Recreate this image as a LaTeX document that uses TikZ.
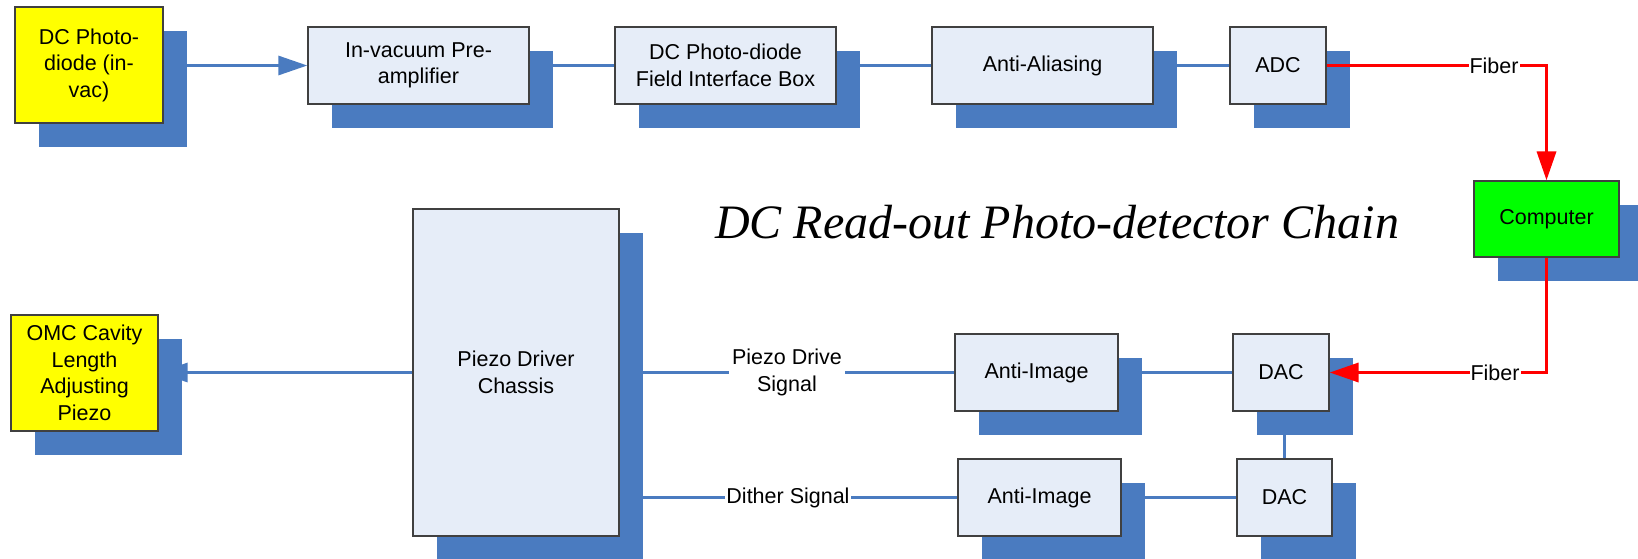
\documentclass[tikz,border=0pt]{standalone}
\usepackage{fontspec}
\setmainfont{Liberation Sans}
\newfontfamily\titlefont{Liberation Serif}
\usetikzlibrary{arrows.meta,shadows,calc}
\definecolor{shblue}{RGB}{74,123,192}
\definecolor{boxfill}{RGB}{230,237,248}
\definecolor{boxdraw}{RGB}{64,64,64}
\definecolor{fibred}{RGB}{255,0,0}
\definecolor{yel}{RGB}{255,255,0}
\definecolor{grn}{RGB}{0,255,0}
\begin{document}
\begin{tikzpicture}[x=1pt,y=-1pt,
  blk/.style={draw=boxdraw, line width=1.3pt, fill=boxfill, align=center, inner sep=0pt,
    font=\fontsize{21.5}{26.5}\selectfont,
    drop shadow={shadow xshift=24pt, shadow yshift=-24pt, opacity=1, fill=shblue, draw=none}},
  wire/.style={draw=shblue, line width=3pt},
  fib/.style={draw=fibred, line width=3.5pt},
  lab/.style={fill=white, inner sep=1pt, align=center, font=\fontsize{21.5}{26.5}\selectfont},
  bluearrow/.style={wire, -{Triangle[length=29pt,width=19pt]}},
  redarrow/.style={fib, -{Triangle[length=29pt,width=19pt]}}
]
\useasboundingbox (0,0) rectangle (1638,558);

% top chain
\node[blk, fill=yel, minimum width=148pt, minimum height=116pt] (dcpd) at (89,65) {DC Photo-\\diode (in-\\vac)};
\node[blk, minimum width=221pt, minimum height=77pt] (pre) at (418.5,65.5) {In-vacuum Pre-\\amplifier};
\node[blk, minimum width=221pt, minimum height=77pt] (fib) at (725.5,65.5) {DC Photo-diode\\Field Interface Box};
\node[blk, minimum width=221pt, minimum height=77pt] (aa) at (1042.5,65.5) {Anti-Aliasing};
\node[blk, minimum width=96pt, minimum height=77pt] (adc) at (1278,65.5) {ADC};
\node[blk, fill=grn, minimum width=145pt, minimum height=76pt] (comp) at (1546.5,219) {Computer};

% bottom chain
\node[blk, minimum width=206pt, minimum height=327pt] (pzd) at (516,372.5) {Piezo Driver\\Chassis};
\node[blk, fill=yel, minimum width=147pt, minimum height=116pt] (omc) at (84.5,373) {OMC Cavity\\Length\\Adjusting\\Piezo};
\node[blk, minimum width=163pt, minimum height=77pt] (ai1) at (1036.5,372.5) {Anti-Image};
\node[blk, minimum width=96pt, minimum height=77pt] (dac1) at (1281,372.5) {DAC};
\node[blk, minimum width=163pt, minimum height=77pt] (ai2) at (1039.5,497.5) {Anti-Image};
\node[blk, minimum width=95pt, minimum height=77pt] (dac2) at (1284.5,497.5) {DAC};

% title
\node[anchor=base, inner sep=0pt, font=\titlefont\itshape\fontsize{48}{56}\selectfont] (title) at (1057,238) {DC Read-out Photo-detector Chain};

% blue connectors
\draw[bluearrow] (dcpd.east |- pre.west) -- (pre.west);
\draw[wire] (pre.east) -- (fib.west);
\draw[wire] (fib.east) -- (aa.west);
\draw[wire] (aa.east) -- (adc.west);
\draw[bluearrow] (pzd.west) -- (pzd.west -| omc.east);
\draw[wire] (pzd.east) -- (ai1.west);
\draw[wire] (ai1.east) -- (dac1.west);
\draw[wire] (pzd.east |- ai2.west) -- (ai2.west);
\draw[wire] (ai2.east) -- (dac2.west);
\draw[wire] (dac2.north) -- (dac2.north |- dac1.south);

% fiber connectors
\coordinate (c1) at (comp.north |- adc.east);
\coordinate (c2) at (comp.south |- dac1.east);
\draw[redarrow] (adc.east) -- (c1) -- (comp.north);
\draw[redarrow] (comp.south) -- (c2) -- (dac1.east);

% labels
\node[lab] (f1) at (1494,65.5) {Fiber};
\node[lab] (f2) at (1495,372.5) {Fiber};
\node[lab, inner xsep=3pt] (pds) at (787,372.5) {Piezo Drive\\Signal};
\node[lab] (dth) at (788,497.5) {Dither Signal};
\end{tikzpicture}
\end{document}
